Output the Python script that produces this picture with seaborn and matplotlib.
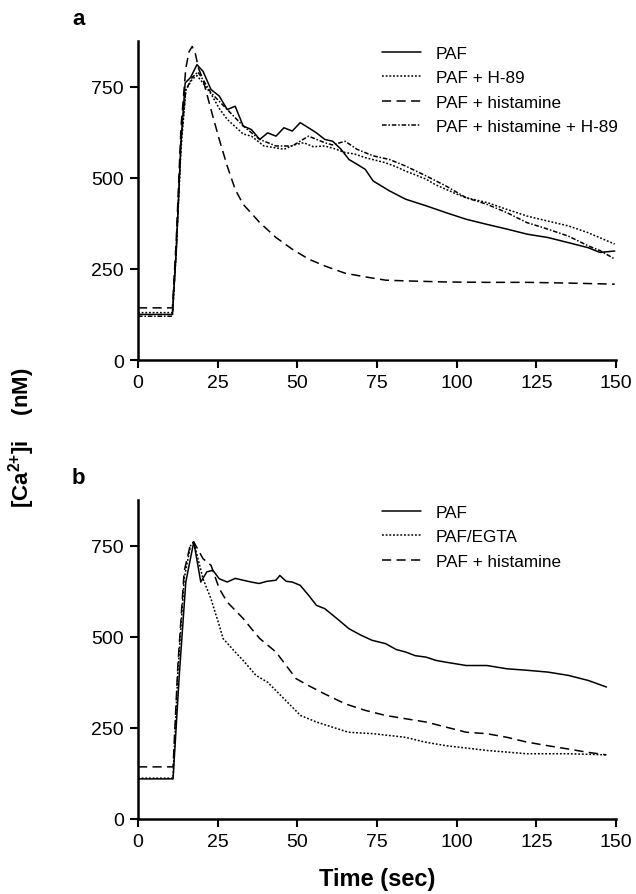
import matplotlib
matplotlib.use("Agg")
import matplotlib.pyplot as plt
import seaborn as sns
import pandas as pd

sns.set_theme(style="ticks")
plt.rcParams['font.family'] = ['Liberation Sans', 'DejaVu Sans']
plt.rcParams['mathtext.fontset'] = 'custom'
plt.rcParams['mathtext.rm'] = 'Liberation Sans'
plt.rcParams['mathtext.bf'] = 'Liberation Sans:bold'
plt.rcParams['text.color'] = 'black'

# ---------------- Panel a data ----------------
a_paf_t = [0, 10.8, 12, 13.5, 14.8, 16.5, 18.5, 20.4, 22.9, 25.5, 28, 30.5, 33, 35.6, 38.2, 40.7, 43.3, 45.8,
           48.4, 50.9, 53.5, 56, 58.6, 61.1, 63.7, 66.2, 68.7, 71.3, 73.8, 78.9, 84, 90.4, 96.7, 103, 109.5,
           115.8, 122.2, 128.6, 135, 141.3, 145, 149.6]
a_paf_v = [125, 125, 300, 600, 760, 775, 810, 792, 742, 724, 687, 696, 642, 632, 605, 623, 614, 637,
           628, 651, 637, 623, 605, 600, 578, 550, 537, 523, 491, 464, 441, 423, 404, 386, 372,
           359, 345, 336, 322, 308, 295, 299]

a_h89_t = [0, 10.8, 12, 13.5, 15, 17, 18.5, 20.4, 22.9, 25.5, 28, 30.5, 33, 35.6, 39.5, 42.5, 45.8, 49, 52,
           55, 58.6, 61.5, 65, 68, 71.3, 74.5, 77.7, 81, 84, 87, 90.4, 93.5, 96.7, 100, 103, 109.5, 115.8,
           122, 128.6, 135, 141, 149.6]
a_h89_v = [130, 130, 300, 580, 740, 770, 780, 760, 730, 690, 660, 640, 620, 614, 587, 583, 578, 590, 596,
           585, 587, 580, 569, 565, 555, 548, 541, 530, 518, 508, 496, 480, 468, 455, 445, 432, 413,
           395, 381, 368, 350, 318]

a_his_t = [0, 10.8, 12, 13.5, 15, 16, 17, 18, 19, 20.4, 22.9, 25.5, 28, 30.5, 33, 38.2, 43.3, 48.4, 53.5,
           58.6, 65, 71.3, 77.7, 84, 96.7, 109.5, 122, 135, 149.6]
a_his_v = [143, 143, 330, 640, 800, 845, 860, 840, 800, 769, 687, 605, 532, 468, 427, 377, 336, 304, 277,
           258, 238, 228, 219, 217, 214, 213, 213, 211, 208]

a_hh_t = [0, 10.8, 12, 13.5, 15, 17, 18.8, 20.4, 22.9, 28, 33, 38.2, 43.3, 48.4, 53.5, 58.6, 61, 65, 68.7,
          73.8, 78.9, 84, 90.4, 96.7, 103, 109.5, 115.8, 122, 128.6, 135, 141.3, 145, 149.6]
a_hh_v = [120, 120, 300, 600, 740, 775, 790, 769, 733, 687, 642, 605, 587, 587, 614, 596, 590, 600, 578,
          560, 550, 532, 505, 477, 445, 427, 404, 377, 359, 340, 313, 300, 277]

# ---------------- Panel b data ----------------
b_paf_t = [0, 11, 13, 15, 17.5, 19.7, 21.6, 23.5, 25.5, 28, 30.5, 33, 35.5, 38, 40.5, 43.3, 44.5, 46.5, 48.4,
           50.9, 53.5, 56, 58.6, 62.4, 66.2, 70, 73.5, 77.7, 81, 84, 87, 90.4, 93.5, 96.7, 103, 109.5, 115.8,
           122, 128.6, 135, 141.3, 147]
b_paf_v = [110, 110, 400, 650, 760, 650, 678, 682, 659, 650, 660, 655, 650, 646, 652, 655, 668, 652, 650,
           641, 614, 586, 577, 550, 522, 504, 490, 481, 465, 458, 448, 444, 435, 430, 421, 421, 412,
           408, 403, 394, 380, 362]

b_egta_t = [0, 11, 12.5, 14.5, 16.5, 17.5, 20.4, 22.9, 25.5, 26.7, 30.5, 33, 37, 40.7, 45.8, 51, 56, 61, 66,
            73.8, 84, 90, 96.7, 109.5, 122, 135, 147]
b_egta_v = [112, 112, 400, 660, 750, 760, 659, 604, 531, 495, 458, 435, 394, 375, 330, 284, 266, 252, 238,
            234, 224, 211, 201, 188, 179, 179, 176]

b_his_t = [0, 11, 12.5, 14.5, 16.5, 17.5, 20.4, 22.9, 25.5, 28, 33, 35.6, 38.2, 43.3, 49.6, 53.5, 58.6, 65,
           71.3, 77.7, 84, 90.4, 96.7, 103, 109.5, 115.8, 122, 128.6, 135, 141, 147]
b_his_v = [143, 143, 420, 680, 755, 760, 714, 696, 632, 595, 550, 522, 495, 458, 385, 366, 343, 316,
           298, 284, 275, 266, 252, 238, 234, 224, 211, 201, 192, 183, 176]

x_ticks = [0, 25, 50, 75, 100, 125, 150]
y_ticks = [0, 250, 500, 750]

DOT = (0, (1.2, 1.2))
DASH = (0, (6, 3.5))
DASHDOT = (0, (3, 1.2, 1, 1.2))

panel_a = [("PAF", a_paf_t, a_paf_v, "-"),
           ("PAF + H-89", a_h89_t, a_h89_v, DOT),
           ("PAF + histamine", a_his_t, a_his_v, DASH),
           ("PAF + histamine + H-89", a_hh_t, a_hh_v, DASHDOT)]
panel_b = [("PAF", b_paf_t, b_paf_v, "-"),
           ("PAF/EGTA", b_egta_t, b_egta_v, DOT),
           ("PAF + histamine", b_his_t, b_his_v, DASH)]

W, H = 636, 895
fig = plt.figure(figsize=(W / 100, H / 100), dpi=100)
L, R = 138 / W, 616 / W
ax_a = fig.add_axes([L, 1 - 361 / H, R - L, (361 - 42) / H])
ax_b = fig.add_axes([L, 1 - 820 / H, R - L, (820 - 501) / H])

for ax, series, letter in [(ax_a, panel_a, "a"), (ax_b, panel_b, "b")]:
    for name, t, v, ls in series:
        df = pd.DataFrame({"t": t, "v": v})
        sns.lineplot(data=df, x="t", y="v", ax=ax, color="black", lw=1.1,
                     linestyle=ls, label=name, estimator=None)
    ax.set_xlim(0, 150)
    ax.set_ylim(0, 875)
    ax.set_xticks(x_ticks)
    ax.set_yticks(y_ticks)
    ax.set_xlabel("")
    ax.set_ylabel("")
    for s in ["top", "right"]:
        ax.spines[s].set_visible(False)
    for s in ["left", "bottom"]:
        ax.spines[s].set_linewidth(1.8)
        ax.spines[s].set_color("black")
    ax.tick_params(axis="both", direction="out", length=6, width=1.5, labelsize=14,
                   colors="black", pad=4)
    leg = ax.legend(loc="upper left", bbox_to_anchor=(0.51, 0.985), frameon=False, fontsize=12.3,
                    handlelength=2.3, handletextpad=0.85, labelspacing=0.55, borderaxespad=0.0,
                    borderpad=0.0)
    for line in leg.get_lines():
        line.set_linewidth(1.1)
    for txt in leg.get_texts():
        txt.set_color("black")
    ax.text(-0.138, 1.069, letter, transform=ax.transAxes,
            fontsize=16, fontweight="bold", ha="left", va="center", color="black")

fig.text(22 / W, 1 - 438 / H, r"[Ca$\mathbf{^{2{+}}}$]i    (nM)", rotation=90, ha="center", va="center",
         fontsize=16, fontweight="bold", color="black")
fig.text((138 + 616) / 2 / W, 1 - 880 / H, "Time (sec)", ha="center", va="center",
         fontsize=17, fontweight="bold", color="black")

fig.savefig("out.png", dpi=100)
